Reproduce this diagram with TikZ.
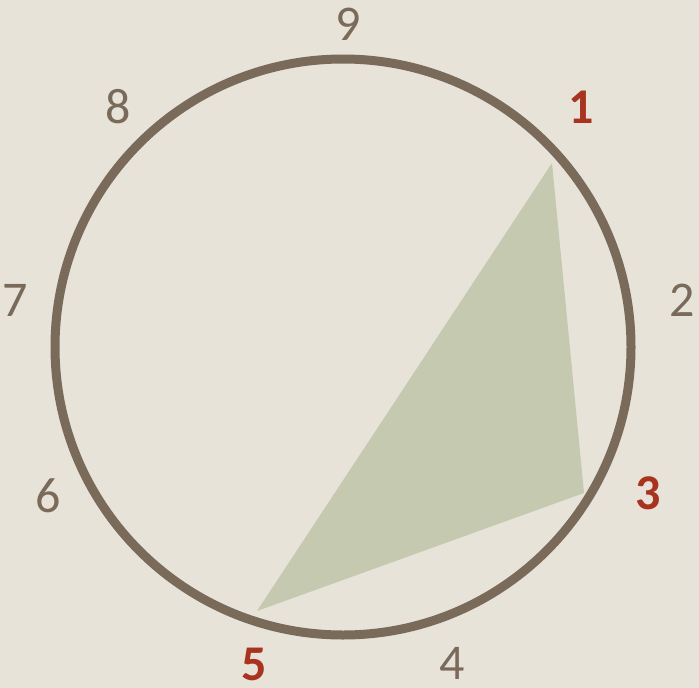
\documentclass[tikz,border=0pt]{standalone}
\usepackage{fontspec}
\setmainfont{Carlito}
\definecolor{bg}{HTML}{E7E3D9}
\definecolor{ring}{HTML}{7A6A5A}
\definecolor{hl}{HTML}{A8341F}
\definecolor{tri}{HTML}{C5C9AF}
\begin{document}
\begin{tikzpicture}[x=1pt,y=-1pt,
  num/.style={font=\fontsize{50}{50}\selectfont, text=ring, inner sep=0pt},
  hot/.style={font=\fontsize{50}{50}\selectfont\bfseries, text=hl, inner sep=0pt}]
\fill[bg] (0,0) rectangle (699,688);
\useasboundingbox (0,0) rectangle (699,688);
\coordinate (c) at (343,347);
\coordinate (p1) at (552,163);
\coordinate (p3) at (584,493);
\coordinate (p5) at (257,611);
\fill[tri] (p1) -- (p3) -- (p5) -- cycle;
\draw[ring, line width=9pt] (c) circle[radius=288];
\node[num] (n9) at (348,24) {9};
\node[hot] (n1) at (581,107) {1};
\node[num] (n2) at (682,300) {2};
\node[hot] (n3) at (648,493) {3};
\node[num] (n4) at (452,663) {4};
\node[hot] (n5) at (254,664) {5};
\node[num] (n6) at (48,496) {6};
\node[num] (n7) at (15,300) {7};
\node[num] (n8) at (118,107) {8};
\end{tikzpicture}
\end{document}
